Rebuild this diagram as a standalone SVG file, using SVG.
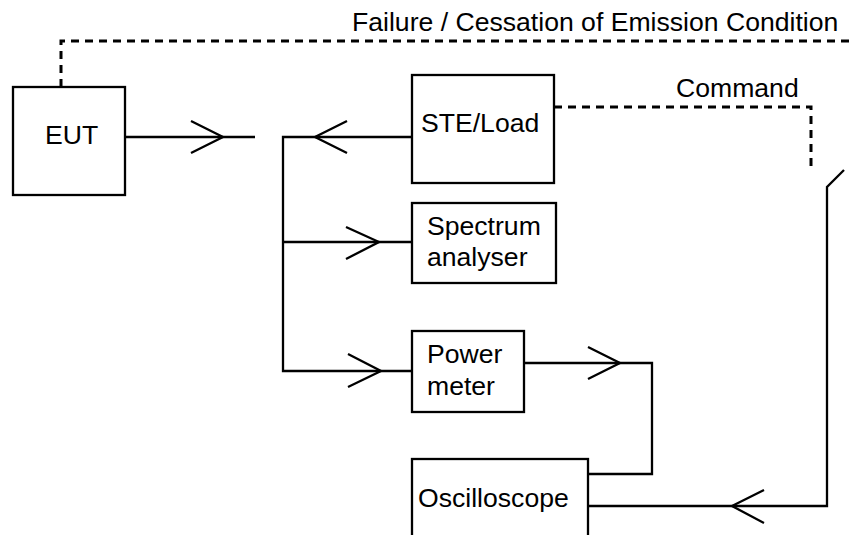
<svg xmlns="http://www.w3.org/2000/svg" width="852" height="535" viewBox="0 0 852 535">
<style>
.box{fill:#fff;stroke:#000;stroke-width:2.3}
.ln{fill:none;stroke:#000;stroke-width:2.3}
.dash{fill:none;stroke:#000;stroke-width:3;stroke-dasharray:8 6}
text{font-family:"Liberation Sans",Arial,sans-serif;font-size:26.6px;fill:#000}
</style>
<rect width="852" height="535" fill="#fff"/>
<g id="connectors">
<path class="dash" d="M61,87 V41 H852"/>
<path class="dash" d="M554,107 H811 V172"/>
<path class="ln" d="M125,137 H255"/>
<path class="ln" d="M191,121 L223,137 L191,153"/>
<path class="ln" d="M412,137 H283 V371 H412"/>
<path class="ln" d="M347,121 L315,137 L347,153"/>
<path class="ln" d="M283,242 H412"/>
<path class="ln" d="M346,227 L379,242 L346,259"/>
<path class="ln" d="M348,354 L381,371 L348,387"/>
<path class="ln" d="M524,363 H652 V474 H588"/>
<path class="ln" d="M588,347 L620,363 L588,379"/>
<path class="ln" d="M588,506 H827 V187 L844,170"/>
<path class="ln" d="M764,490 L732,506 L764,523"/>
</g>
<text x="352" y="31">Failure / Cessation of Emission Condition</text>
<text x="676" y="97">Command</text>
<g id="eut">
<rect class="box" x="13" y="87" width="112" height="108"/>
<text x="45" y="144">EUT</text>
</g>
<g id="ste">
<rect class="box" x="412" y="75" width="142" height="108"/>
<text x="421" y="132">STE/Load</text>
</g>
<g id="spectrum">
<rect class="box" x="412" y="203" width="144" height="80"/>
<text x="427" y="235">Spectrum</text>
<text x="427" y="266">analyser</text>
</g>
<g id="power">
<rect class="box" x="412" y="331" width="112" height="81"/>
<text x="427" y="363">Power</text>
<text x="427" y="395">meter</text>
</g>
<g id="osc">
<rect class="box" x="412" y="459" width="176" height="90"/>
<text x="418" y="507">Oscilloscope</text>
</g>
</svg>
